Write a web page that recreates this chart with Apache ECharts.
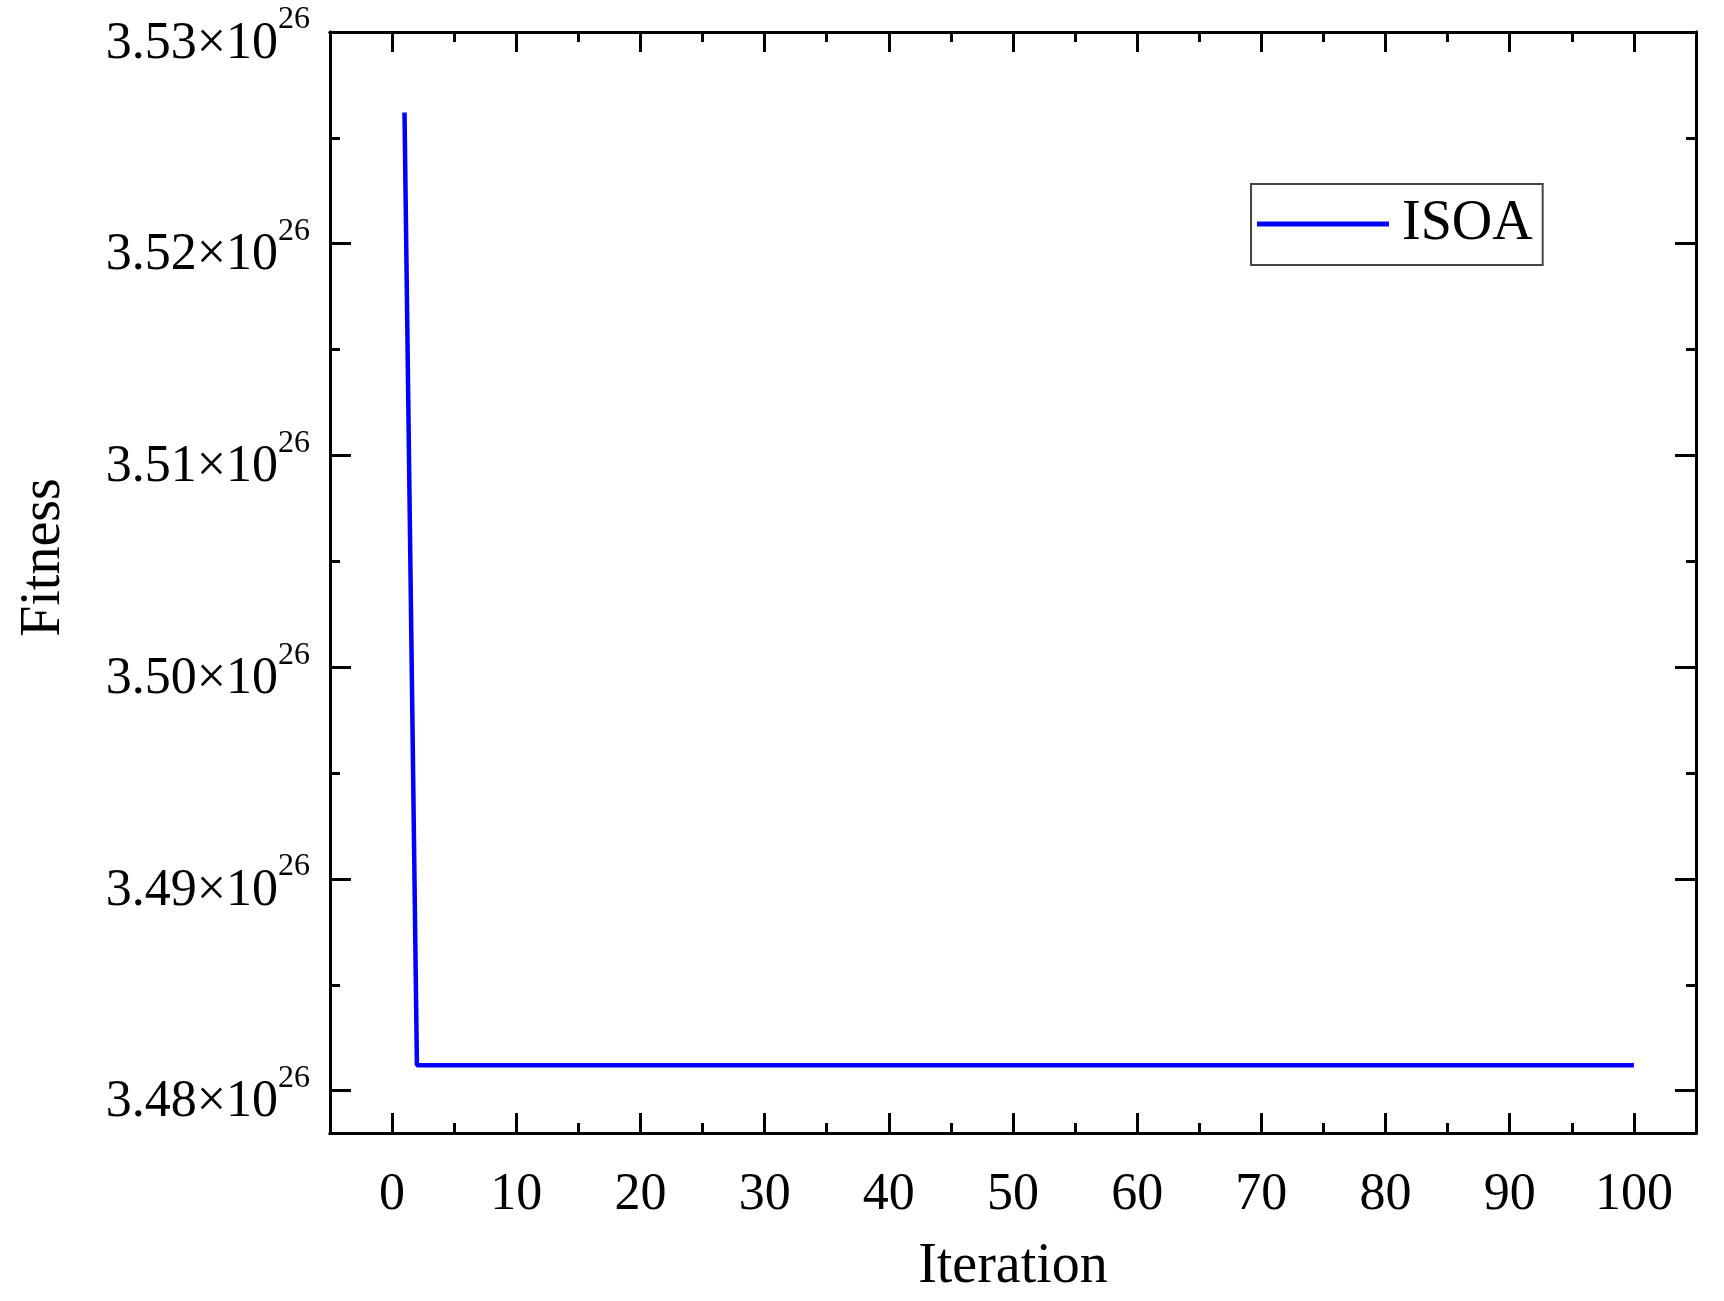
<!DOCTYPE html>
<html><head><meta charset="utf-8">
<script src="https://cdn.jsdelivr.net/npm/echarts@6/dist/echarts.min.js"></script>
<style>html,body{margin:0;padding:0;background:#fff}#c{width:1724px;height:1301px}</style>
</head><body><div id="c"></div>
<script>
// Data (fitness in units of 1e26)
const iterations = [1,2,3,4,5,6,7,8,9,10,11,12,13,14,15,16,17,18,19,20,21,22,23,24,25,26,27,28,29,30,31,32,33,34,35,36,37,38,39,40,41,42,43,44,45,46,47,48,49,50,51,52,53,54,55,56,57,58,59,60,61,62,63,64,65,66,67,68,69,70,71,72,73,74,75,76,77,78,79,80,81,82,83,84,85,86,87,88,89,90,91,92,93,94,95,96,97,98,99,100];
const fitness = [3.5262,3.4812,3.4812,3.4812,3.4812,3.4812,3.4812,3.4812,3.4812,3.4812,
3.4812,3.4812,3.4812,3.4812,3.4812,3.4812,3.4812,3.4812,3.4812,3.4812,
3.4812,3.4812,3.4812,3.4812,3.4812,3.4812,3.4812,3.4812,3.4812,3.4812,
3.4812,3.4812,3.4812,3.4812,3.4812,3.4812,3.4812,3.4812,3.4812,3.4812,
3.4812,3.4812,3.4812,3.4812,3.4812,3.4812,3.4812,3.4812,3.4812,3.4812,
3.4812,3.4812,3.4812,3.4812,3.4812,3.4812,3.4812,3.4812,3.4812,3.4812,
3.4812,3.4812,3.4812,3.4812,3.4812,3.4812,3.4812,3.4812,3.4812,3.4812,
3.4812,3.4812,3.4812,3.4812,3.4812,3.4812,3.4812,3.4812,3.4812,3.4812,
3.4812,3.4812,3.4812,3.4812,3.4812,3.4812,3.4812,3.4812,3.4812,3.4812,
3.4812,3.4812,3.4812,3.4812,3.4812,3.4812,3.4812,3.4812,3.4812,3.4812];
const seriesName = 'ISOA';
const xMajorTicks = [0,10,20,30,40,50,60,70,80,90,100];
const xMinorTicks = [5,15,25,35,45,55,65,75,85,95];
const yMajorTicks = [3.48,3.49,3.50,3.51,3.52,3.53];
const yMinorTicks = [3.485,3.495,3.505,3.515,3.525];
const xTitle = 'Iteration';
const yTitle = 'Fitness';
const exponent = '26';

const FONT = '"Liberation Serif","Times New Roman",serif';
const XMIN = -5, XMAX = 105, YMIN = 3.478, YMAX = 3.53;
const lineCol = '#000';

function xAxisDef(pos, ticks, len, showLabel, showName) {
  return {
    type: 'value', position: pos, min: XMIN, max: XMAX,
    axisLine: {show: true, onZero: false, lineStyle: {color: lineCol, width: 3}},
    axisTick: {show: true, inside: true, length: len, customValues: ticks, lineStyle: {color: lineCol, width: 3}},
    axisLabel: showLabel ? {show: true, customValues: ticks, margin: 36, fontFamily: FONT, fontSize: 52, color: '#000'} : {show: false},
    splitLine: {show: false},
    name: showName ? xTitle : '', nameLocation: 'middle', nameGap: 106,
    nameTextStyle: {fontFamily: FONT, fontSize: 56, color: '#000'}
  };
}
function yAxisDef(pos, ticks, len, showLabel, showName) {
  return {
    type: 'value', position: pos, min: YMIN, max: YMAX,
    axisLine: {show: true, onZero: false, lineStyle: {color: lineCol, width: 3}},
    axisTick: {show: true, inside: true, length: len, customValues: ticks, lineStyle: {color: lineCol, width: 3}},
    axisLabel: showLabel ? {
      show: true, customValues: ticks, margin: 20,
      formatter: v => '{b|' + v.toFixed(2) + '×10}{s|' + exponent + '}',
      rich: {
        b: {fontFamily: FONT, fontSize: 52, color: '#000', lineHeight: 52, padding: [24, 0, 0, 0]},
        s: {fontFamily: FONT, fontSize: 32, color: '#000', lineHeight: 32, padding: [0, 0, 24, 0]}
      }
    } : {show: false},
    splitLine: {show: false},
    name: showName ? yTitle : '', nameLocation: 'middle', nameGap: 258, nameRotate: 90,
    nameTextStyle: {fontFamily: FONT, fontSize: 56, color: '#000', padding: [0, 0, 0, 50]}
  };
}

const chart = echarts.init(document.getElementById('c'), null, {renderer: 'canvas'});
chart.setOption({
  backgroundColor: '#fff',
  animation: false,
  grid: {left: 330, right: 28, top: 32, bottom: 168, containLabel: false, outerBoundsMode: 'none'},
  xAxis: [
    xAxisDef('bottom', xMajorTicks, 20, true, true),
    xAxisDef('bottom', xMinorTicks, 10, false, false),
    xAxisDef('top', xMajorTicks, 20, false, false),
    xAxisDef('top', xMinorTicks, 10, false, false)
  ],
  yAxis: [
    yAxisDef('left', yMajorTicks, 21, true, true),
    yAxisDef('left', yMinorTicks, 10, false, false),
    yAxisDef('right', yMajorTicks, 21, false, false),
    yAxisDef('right', yMinorTicks, 10, false, false)
  ],
  legend: {
    show: true, left: 1251, top: 184, orient: 'vertical',
    padding: [12, 10, 13, 6],
    borderColor: '#444', borderWidth: 2, borderRadius: 0,
    icon: 'rect',
    itemWidth: 132, itemHeight: 5,
    itemStyle: {color: '#0000ff'},
    textStyle: {fontFamily: FONT, fontSize: 56, color: '#000', padding: [0, 0, 0, 8]},
    data: [seriesName]
  },
  series: [{
    name: seriesName, type: 'line', xAxisIndex: 0, yAxisIndex: 0,
    data: iterations.map((it, i) => [it, fitness[i]]),
    symbol: 'none', showSymbol: false,
    lineStyle: {color: '#0000ff', width: 4.5},
    itemStyle: {color: '#0000ff'}
  }]
});
</script></body></html>
